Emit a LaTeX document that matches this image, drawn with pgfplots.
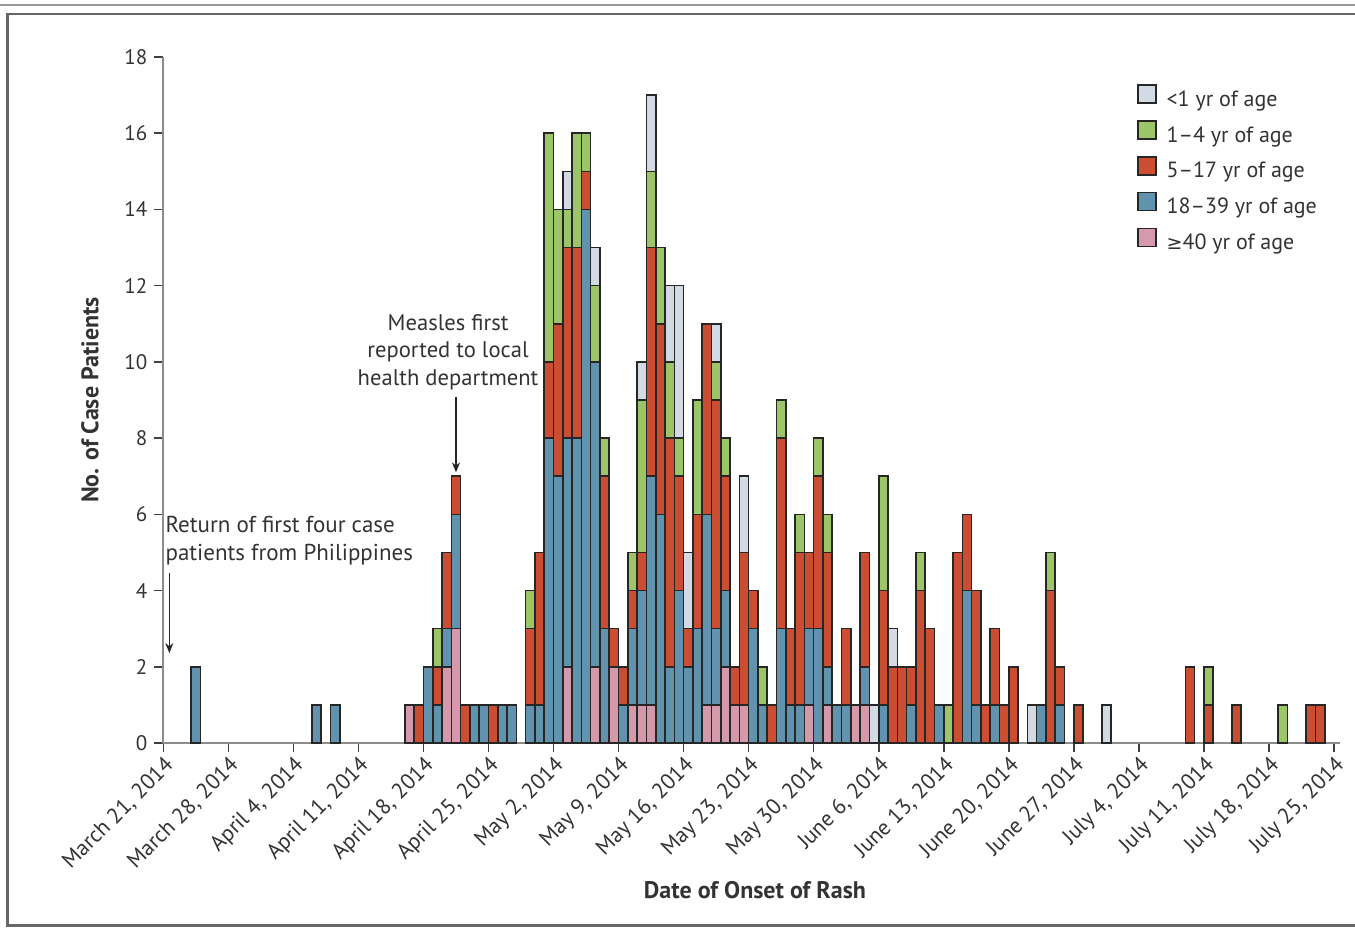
\documentclass[border=0pt]{standalone}
\usepackage{fontspec}
\setmainfont{PT Sans}
\newfontfamily\dejavu{DejaVu Sans}
\usepackage{pgfplots}
\usepackage{pgfplotstable}
\pgfplotsset{compat=1.18}
\usetikzlibrary{arrows.meta}
\definecolor{cgrey}{HTML}{D2DBE3}
\definecolor{cgreen}{HTML}{9CC568}
\definecolor{cred}{HTML}{CB4E33}
\definecolor{cblue}{HTML}{6193AE}
\definecolor{cpink}{HTML}{D49AAB}
\definecolor{ctext}{HTML}{333333}
\pgfplotsset{mylegend/.style={legend image code/.code={\draw[##1, line width=0.8pt] (0pt,-1.5pt) rectangle (9pt,7.5pt);}}}
% day index from March 21, 2014 (0) ; counts by age group
\pgfplotstableread{
d pink blue red green grey
3 0 2 0 0 0
16 0 1 0 0 0
18 0 1 0 0 0
26 1 0 0 0 0
27 0 0 1 0 0
28 0 2 0 0 0
29 0 1 1 1 0
30 2 1 2 0 0
31 3 3 1 0 0
32 0 0 1 0 0
33 0 1 0 0 0
34 0 1 0 0 0
35 0 0 1 0 0
36 0 1 0 0 0
37 0 1 0 0 0
39 0 1 2 1 0
40 0 1 4 0 0
41 0 8 2 6 0
42 0 7 4 3 0
43 2 6 5 1 1
44 0 8 5 3 0
45 0 14 1 1 0
46 2 8 0 2 1
47 0 3 4 1 0
48 2 0 1 0 0
49 0 1 1 0 0
50 1 2 1 1 0
51 1 3 1 4 1
52 1 6 6 2 2
53 0 6 5 2 0
54 0 2 6 2 2
55 0 4 3 1 4
56 0 2 1 0 2
57 0 3 3 3 0
58 1 5 5 0 0
59 1 2 6 1 1
60 2 2 3 1 0
61 1 0 1 0 0
62 1 0 4 0 2
63 0 3 1 0 0
64 0 1 0 1 0
65 0 0 1 0 0
66 0 3 5 1 0
67 0 1 2 0 0
68 0 1 4 1 0
69 1 2 2 0 0
70 0 3 4 1 0
71 1 1 3 1 0
72 0 1 0 0 0
73 0 1 2 0 0
74 1 0 0 0 0
75 1 1 3 0 0
76 0 0 0 0 1
77 0 1 3 3 0
78 0 0 2 0 1
79 0 0 2 0 0
80 0 1 1 0 0
81 0 0 4 1 0
82 0 0 3 0 0
83 0 1 0 0 0
84 0 0 0 1 0
85 0 0 5 0 0
86 0 4 2 0 0
87 0 1 3 0 0
88 0 0 1 0 0
89 0 1 2 0 0
90 0 0 1 0 0
91 0 0 2 0 0
93 0 0 0 0 1
94 0 1 0 0 0
95 0 0 4 1 0
96 0 1 1 0 0
98 0 0 1 0 0
101 0 0 0 0 1
110 0 0 2 0 0
112 0 0 1 1 0
115 0 0 1 0 0
120 0 0 0 1 0
123 0 0 1 0 0
124 0 0 1 0 0
}\casedata
\begin{document}
\begin{tikzpicture}
\draw[color=black!40, line width=1pt] (0,461.5pt) -- (677.5pt,461.5pt);
\draw[color=black!60, line width=1.3pt] (680pt,457pt) -- (3.75pt,457pt) -- (3.75pt,1.25pt) -- (680pt,1.25pt);
\begin{axis}[
  at={(81.65pt,92.5pt)}, anchor=south west,
  scale only axis, width=588.13pt, height=343pt,
  xmin=0, xmax=126.6, ymin=0, ymax=18,
  clip=false,
  axis lines=left,
  axis line style={-, draw=black!45, line width=1.1pt},
  ybar stacked, bar width=1,
  ytick={0,2,...,18},
  xtick={0,7,...,126},
  xticklabels={{March 21, 2014},{March 28, 2014},{April 4, 2014},{April 11, 2014},{April 18, 2014},{April 25, 2014},{May 2, 2014},{May 9, 2014},{May 16, 2014},{May 23, 2014},{May 30, 2014},{June 6, 2014},{June 13, 2014},{June 20, 2014},{June 27, 2014},{July 4, 2014},{July 11, 2014},{July 18, 2014},{July 25, 2014}},
  tick align=outside,
  major tick length=4.5pt,
  tick style={draw=black!75, line width=0.8pt},
  /pgf/number format/assume math mode=true,
  yticklabel style={font=\fontsize{10.5}{12}\selectfont, text=ctext},
  xticklabel style={font=\fontsize{11}{12}\selectfont, text=ctext, rotate=45, anchor=north east, inner sep=1pt},
  ylabel={No. of Case Patients},
  ylabel style={at={(axis description cs:-0.0623,0.5)}, anchor=center, font=\bfseries\fontsize{12}{14}\selectfont, text=ctext},
  xlabel={Date of Onset of Rash},
  xlabel style={at={(axis description cs:0.503,-0.214)}, anchor=center, font=\bfseries\fontsize{12}{14}\selectfont, text=ctext},
  every axis plot post/.append style={mylegend},
  legend style={at={(0.8278,0.960)}, anchor=north west, draw=none, fill=none, inner sep=0pt, outer sep=0pt, row sep=5.5pt,
    font=\fontsize{11}{12}\selectfont, text=ctext,
    nodes={inner sep=0pt, text height=7.5pt, text depth=1.5pt},
    /tikz/every odd column/.style={column sep=5pt}},
  legend cell align=left,
  reverse legend,
]
\addplot[fill=cpink, draw=black!85, line width=0.8pt, mylegend] table[x expr=\thisrow{d}+0.5, y=pink] {\casedata};
\addlegendentry{{\dejavu\fontsize{9.5}{12}\selectfont ≥}40 yr of age}
\addplot[fill=cblue, draw=black!85, line width=0.8pt, mylegend] table[x expr=\thisrow{d}+0.5, y=blue] {\casedata};
\addlegendentry{18–39 yr of age}
\addplot[fill=cred, draw=black!85, line width=0.8pt, mylegend] table[x expr=\thisrow{d}+0.5, y=red] {\casedata};
\addlegendentry{5–17 yr of age}
\addplot[fill=cgreen, draw=black!85, line width=0.8pt, mylegend] table[x expr=\thisrow{d}+0.5, y=green] {\casedata};
\addlegendentry{1–4 yr of age}
\addplot[fill=cgrey, draw=black!85, line width=0.8pt, mylegend] table[x expr=\thisrow{d}+0.5, y=grey] {\casedata};
\addlegendentry{<1 yr of age}
\node[anchor=west, align=left, inner sep=0pt, text=ctext, font=\fontsize{11.5}{14}\selectfont] at (axis cs:0.2,5.3) {Return of first four case\\patients from Philippines};
\draw[-{Stealth[length=5pt,width=4pt]}, black!85, line width=0.8pt] (axis cs:0.65,4.46) -- (axis cs:0.65,2.36);
\node[align=center, inner sep=0pt, text=ctext, font=\fontsize{11.3}{13.75}\selectfont] at (axis cs:30.65,10.26) {Measles first\\reported to local\\health department};
\draw[-{Stealth[length=5pt,width=4pt]}, black!85, line width=0.8pt] (axis cs:31.5,9.08) -- (axis cs:31.5,7.1);
\end{axis}
\pgfresetboundingbox
\path[use as bounding box] (0,0) rectangle (677.5pt,464pt);
\end{tikzpicture}
\end{document}
